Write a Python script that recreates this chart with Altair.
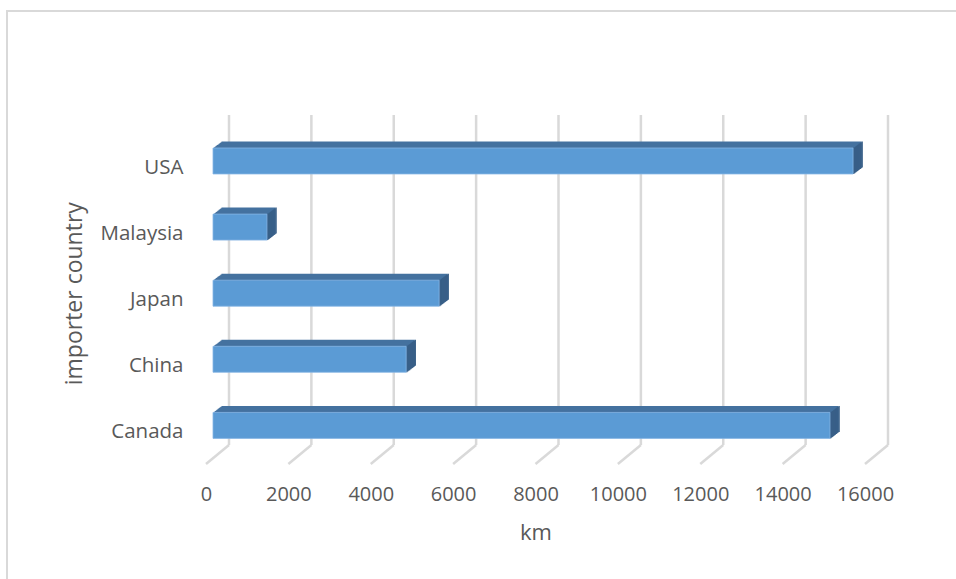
import altair as alt
import pandas as pd

countries = ["USA", "Malaysia", "Japan", "China", "Canada"]
distance_km = [15540, 1310, 5490, 4690, 14980]
tick_values = [0, 2000, 4000, 6000, 8000, 10000, 12000, 14000, 16000]

df = pd.DataFrame({"country": countries, "km": distance_km})
tdf = pd.DataFrame({"tick": tick_values})

FONT = "Open Sans"
GREY = "#595959"
W, H = 659, 349
BACK = 23          # depth offset of the back wall (px)
FRONT = 7          # bar front face offset from floor front (px)
DX, DY = 8.5, -6.5 # bar depth
N = 9

xs = alt.Scale(domain=[0, 16000], nice=False, zero=True)
ys = alt.Scale(domain=countries, range=[33, 323.4], paddingInner=0.607, paddingOuter=0)

xaxis = alt.Axis(values=tick_values, format="d", labelOverlap=False, labelFlush=False,
                 grid=False, domain=False, ticks=False,
                 labelFont=FONT, labelFontSize=20, labelColor=GREY, labelPadding=20,
                 titleFont=FONT, titleFontSize=22, titleColor=GREY,
                 titleFontWeight="normal", titlePadding=18)
yaxis = alt.Axis(grid=False, domain=False, ticks=False,
                 labelFont=FONT, labelFontSize=20.5, labelColor=GREY,
                 labelPadding=23, labelOffset=7,
                 titleFont=FONT, titleFontSize=23, titleColor=GREY,
                 titleFontWeight="normal", titlePadding=13)
XT = "km"
YT = "importer country"

base = alt.Chart(df)

grid = alt.Chart(tdf).mark_rule(color="#D9D9D9", strokeWidth=2.5, xOffset=BACK).encode(
    x=alt.X("tick:Q", scale=xs, axis=xaxis, title=XT),
    y=alt.value(0),
    y2=alt.value(330),
)
floor = alt.Chart(tdf).mark_rule(color="#D9D9D9", strokeWidth=2.5, xOffset=BACK, x2Offset=0).encode(
    x=alt.X("tick:Q", scale=xs, axis=xaxis, title=XT),
    x2=alt.X2("tick:Q"),
    y=alt.value(330),
    y2=alt.value(349),
)

layers = [grid, floor]

# top face (extrusion)
for j in range(N, 0, -1):
    ox = DX * j / N
    oy = DY * j / N
    layers.append(
        base.mark_bar(color="#44729F", xOffset=FRONT + ox, x2Offset=FRONT + ox, yOffset=oy).encode(
            x=alt.X("km:Q", scale=xs, axis=xaxis, title=XT),
            y=alt.Y("country:N", scale=ys, axis=yaxis, title=YT),
        )
    )
# side face
for j in range(0, N + 1):
    ox = DX * j / N
    oy = DY * j / N
    layers.append(
        base.mark_bar(color="#385F88", xOffset=FRONT + ox, x2Offset=FRONT + ox + 1.3, yOffset=oy).encode(
            x=alt.X("km:Q", scale=xs, axis=xaxis, title=XT),
            x2=alt.X2("km:Q"),
            y=alt.Y("country:N", scale=ys, axis=yaxis, title=YT),
        )
    )

front = base.mark_bar(color="#5B9BD5", xOffset=FRONT, x2Offset=FRONT,
                      stroke="#86B5E4", strokeWidth=0.8).encode(
    x=alt.X("km:Q", scale=xs, axis=xaxis, title=XT),
    y=alt.Y("country:N", scale=ys, axis=yaxis, title=YT),
)
layers.append(front)

border = alt.Chart(tdf.head(1)).mark_rect(fill=None, stroke="#D9D9D9", strokeWidth=2).encode(
    x=alt.value(7 - 206), x2=alt.value(1000), y=alt.value(11 - 115), y2=alt.value(700)
)
layers.append(border)

chart = alt.layer(*layers).properties(
    width=W, height=H,
    autosize=alt.AutoSizeParams(type="none"),
    padding={"left": 206, "top": 115, "right": 91, "bottom": 115},
    background="white",
).configure_view(stroke=None)

chart.save("out.html", embed_options={"renderer": "svg", "actions": False})
